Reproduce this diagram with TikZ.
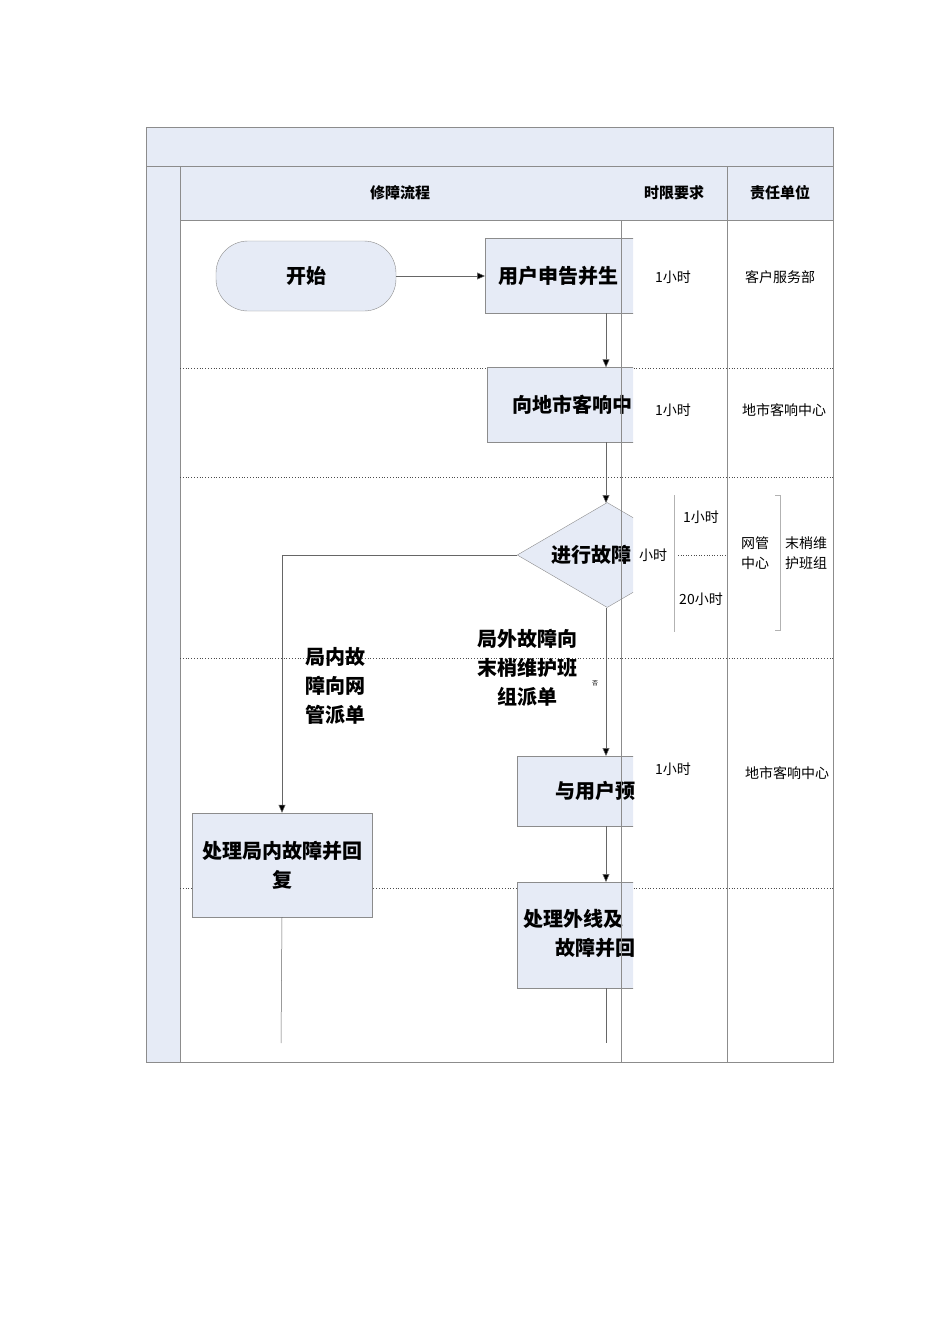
\documentclass[tikz,border=0pt]{standalone}
\usepackage{fontspec}
\setmainfont{Noto Sans CJK SC}
\usetikzlibrary{arrows.meta,shapes.geometric}
\definecolor{fl}{HTML}{E6EBF6}
\definecolor{ln}{HTML}{8C8C8C}
\tikzset{
 bx/.style={draw=ln,fill=fl},
 lane/.style={draw=ln,line width=0.6pt},
 dot/.style={draw=black!70,dotted,line width=0.8pt},
 conn/.style={draw=black!60,line width=0.5pt},
 arr/.style={conn,-{Triangle[length=8pt,width=7pt,fill=black]}},
 big/.style={font=\fontsize{20}{29}\selectfont\bfseries,align=center,inner sep=0pt},
 sm/.style={font=\fontsize{14}{20}\selectfont,align=center,inner sep=0pt},
}
\begin{document}
\begin{tikzpicture}[x=1pt,y=-1pt]
\useasboundingbox (0,0) rectangle (950,1344);
% frame
\fill[fl] (146,127) rectangle (833,166);
\fill[fl] (146,166) rectangle (180,1062);
\fill[fl] (180,166) rectangle (833,220);
\draw[lane] (146,127) rectangle (833,1062);
\draw[lane] (146,166) -- (833,166);
\draw[lane] (180,166) -- (180,1062);
\draw[lane] (180,220) -- (833,220);
\draw[lane] (727,166) -- (727,1062);
\node[sm,font=\fontsize{15}{18}\selectfont\bfseries] (h1) at (400,193) {修障流程};
\node[sm,font=\fontsize{15}{18}\selectfont\bfseries] (h2) at (674,193) {时限要求};
\node[sm,font=\fontsize{15}{18}\selectfont\bfseries] (h3) at (780,193) {责任单位};
% dotted separators
\foreach \y in {368,477,658,888} \draw[dot] (180,\y) -- (833,\y);
% nodes
\node[bx,rounded corners=32pt,minimum width=180pt,minimum height=70pt,big] (start) at (306,276) {开始};
\begin{scope}
\clip (0,0) rectangle (633,1344);
\node[bx,minimum width=200pt,minimum height=75pt,anchor=west] (b1) at (485,276) {};
\node[bx,minimum width=200pt,minimum height=75pt,anchor=west] (b2) at (487,405) {};
\node[bx,diamond,minimum width=180pt,minimum height=105pt,anchor=west,inner sep=0pt] (d) at (517,555) {};
\node[bx,minimum width=200pt,minimum height=70pt,anchor=west] (b3) at (517,791) {};
\node[bx,minimum width=200pt,minimum height=106pt,anchor=west] (b4) at (517,935) {};
\end{scope}
\node[big,anchor=west] (t_b1) at (498,276) {用户申告并生};
\node[big,anchor=west] (t_b2) at (512,405) {向地市客响中};
\node[big,anchor=west] (t_d) at (551,555) {进行故障};
\node[big,anchor=west] (t_b3) at (555,791) {与用户预};
\node[big,anchor=west,align=left] (t_b4) at (523,933) {处理外线及\\\hspace*{32pt}故障并回};
\node[bx,minimum width=180pt,minimum height=104pt,big] (b5) at (282,865) {处理局内故障并回\\复};
\draw[lane,line width=0.5pt] (621,220) -- (621,1062);
\node[sm] (xs) at (653,555) {小时};
% connectors
\coordinate (c1) at (606,313);
\coordinate (c2) at (606,442);
\coordinate (c3) at (606,503);
\coordinate (c4) at (606,608);
\coordinate (c5) at (606,756);
\coordinate (c6) at (606,826);
\coordinate (c7) at (606,882);
\coordinate (c8) at (606,988);
\coordinate (e1) at (606,1043);
\coordinate (c9) at (517,555);
\coordinate (e2) at (281,1043);
\draw[arr] (start.east) -- (b1.west);
\draw[arr] (c1) -- (c2 |- b2.north);
\draw[arr] (c2) -- (c3);
\draw[arr] (c9) -| (b5.north);
\draw[arr] (c4) -- (c5);
\draw[arr] (c6) -- (c7);
\draw[conn] (c8) -- (e1);
\draw[conn] (b5.south) -- (e2);
\node[big] (l1) at (335,686) {局内故\\障向网\\管派单};
\node[big] (l2) at (527,668) {局外故障向\\末梢维护班\\组派单};
\node[font=\fontsize{6}{7}\selectfont] (no) at (595,683) {否};
% time column
\node[sm] (t1) at (673,277) {1小时};
\node[sm] (t2) at (673,410) {1小时};
\node[sm] (t3) at (701,517) {1小时};
\node[sm] (t4) at (701,599) {20小时};
\node[sm] (t5) at (673,769) {1小时};
\draw[draw=black!30] (674,495) -- (674,632);
\draw[dot,line width=0.6pt] (678,555) -- (727,555);
% unit column
\node[sm] (u1) at (780,277) {客户服务部};
\node[sm] (u2) at (784,410) {地市客响中心};
\node[sm] (u3) at (755,553) {网管\\中心};
\node[sm] (u4) at (806,553) {末梢维\\护班组};
\node[sm] (u5) at (787,773) {地市客响中心};
\draw[draw=black!30] (775,495) -- (780,495) -- (780,630) -- (775,630);
\end{tikzpicture}
\end{document}
